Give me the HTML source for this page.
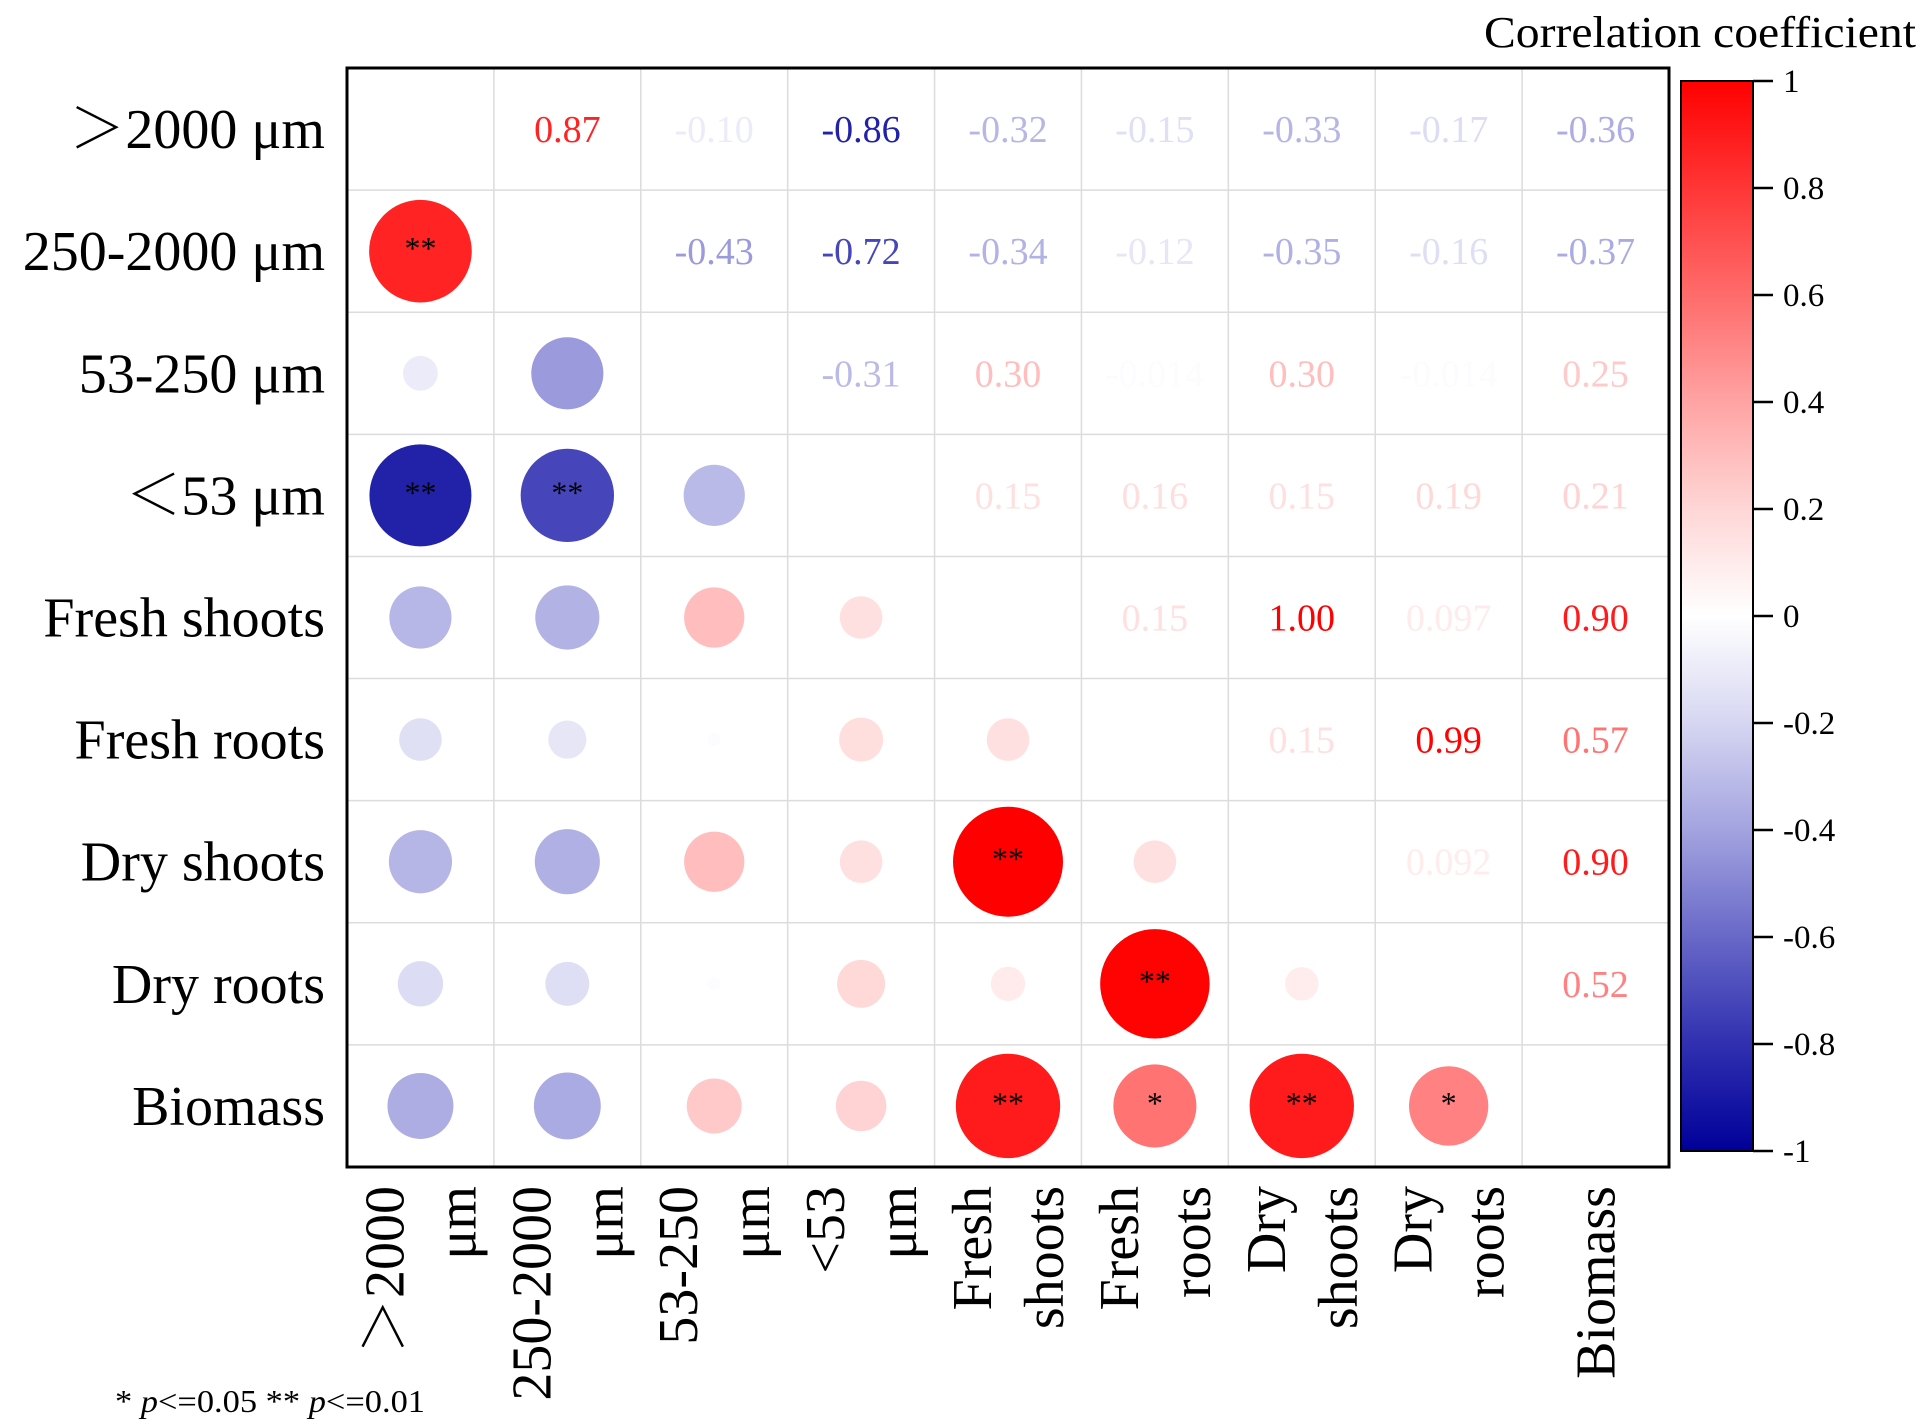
<!DOCTYPE html>
<html><head><meta charset="utf-8"><style>
html,body{margin:0;padding:0;background:#fff;}
svg{display:block;font-family:"Liberation Serif","Noto Serif CJK SC",serif;}
</style></head><body>
<svg id="chart" width="1923" height="1427" viewBox="0 0 1923 1427" xmlns="http://www.w3.org/2000/svg">
<defs>
<linearGradient id="cbgrad" x1="0" y1="1" x2="0" y2="0">
<stop offset="0" stop-color="#000099"/><stop offset="0.1" stop-color="#3030b0"/><stop offset="0.2" stop-color="#6868c8"/><stop offset="0.3" stop-color="#a3a3e0"/><stop offset="0.4" stop-color="#d6d6f2"/><stop offset="0.5" stop-color="#ffffff"/><stop offset="0.6" stop-color="#ffd6d6"/><stop offset="0.7" stop-color="#ffa3a3"/><stop offset="0.8" stop-color="#ff6b6b"/><stop offset="0.9" stop-color="#ff3636"/><stop offset="1" stop-color="#ff0000"/>
</linearGradient>
</defs>
<g id="grid"></g>
<g id="marks"></g>
<rect x="347" y="68" width="1322" height="1099" fill="none" stroke="#000" stroke-width="3"/>
<g id="rowlabels"></g>
<g id="collabels"></g>
<text x="1916" y="47" font-size="44" text-anchor="end" textLength="432" lengthAdjust="spacingAndGlyphs">Correlation coefficient</text>
<rect x="1681" y="81" width="72" height="1070" fill="url(#cbgrad)" stroke="#000" stroke-width="2"/>
<g id="cbticks"></g>
<text x="115" y="1412" font-size="32" textLength="310" lengthAdjust="spacingAndGlyphs">* <tspan font-style="italic">p</tspan>&lt;=0.05  ** <tspan font-style="italic">p</tspan>&lt;=0.01</text>
</svg>
<script>
const rowLabels = ["＞2000 μm","250-2000 μm","53-250 μm","＜53 μm","Fresh shoots","Fresh roots","Dry shoots","Dry roots","Biomass"];
const colLabels = [["＞2000","μm"],["250-2000","μm"],["53-250","μm"],["<53","μm"],["Fresh","shoots"],["Fresh","roots"],["Dry","shoots"],["Dry","roots"],["Biomass"]];
const upperValues = [
 [0.87,-0.10,-0.86,-0.32,-0.15,-0.33,-0.17,-0.36],
 [-0.43,-0.72,-0.34,-0.12,-0.35,-0.16,-0.37],
 [-0.31,0.30,-0.014,0.30,-0.014,0.25],
 [0.15,0.16,0.15,0.19,0.21],
 [0.15,1.00,0.097,0.90],
 [0.15,0.99,0.57],
 [0.092,0.90],
 [0.52]
];
const upperLabels = [
 ["0.87","-0.10","-0.86","-0.32","-0.15","-0.33","-0.17","-0.36"],
 ["-0.43","-0.72","-0.34","-0.12","-0.35","-0.16","-0.37"],
 ["-0.31","0.30","-0.014","0.30","-0.014","0.25"],
 ["0.15","0.16","0.15","0.19","0.21"],
 ["0.15","1.00","0.097","0.90"],
 ["0.15","0.99","0.57"],
 ["0.092","0.90"],
 ["0.52"]
];
const sigPairs = [[0,1,"**"],[0,3,"**"],[1,3,"**"],[4,6,"**"],[5,7,"**"],[4,8,"**"],[6,8,"**"],[5,8,"*"],[7,8,"*"]];
const cbTicks = [1,0.8,0.6,0.4,0.2,0,-0.2,-0.4,-0.6,-0.8,-1];

const NS="http://www.w3.org/2000/svg";
const X0=347,Y0=68,CW=1322/9,CH=1099/9;
const cx=j=>X0+CW*(j+0.5), cy=i=>Y0+CH*(i+0.5);
const cbY=v=>81+(1-v)/2*1070;
const stops=[[-1,[0,0,153]],[-0.8,[48,48,176]],[-0.6,[104,104,200]],[-0.4,[163,163,224]],[-0.2,[214,214,242]],[0,[255,255,255]],[0.2,[255,214,214]],[0.4,[255,163,163]],[0.6,[255,107,107]],[0.8,[255,54,54]],[1,[255,0,0]]];
function color(v){v=Math.max(-1,Math.min(1,v));for(let k=0;k<stops.length-1;k++){const a=stops[k],b=stops[k+1];if(v>=a[0]&&v<=b[0]){const t=(v-a[0])/(b[0]-a[0]);const c=a[1].map((x,q)=>Math.round(x+(b[1][q]-x)*t));return `rgb(${c})`;}}return "#fff";}
function el(tag,attrs,parent,txt){const e=document.createElementNS(NS,tag);for(const k in attrs)e.setAttribute(k,attrs[k]);if(txt!=null)e.textContent=txt;parent.appendChild(e);return e;}
const N=rowLabels.length;
const M=[];for(let i=0;i<N;i++){M.push([]);for(let j=0;j<N;j++)M[i].push(i===j?1:0);}
for(let i=0;i<N-1;i++)for(let k=0;k<upperValues[i].length;k++){const j=i+1+k;M[i][j]=upperValues[i][k];M[j][i]=upperValues[i][k];}
const sig={};sigPairs.forEach(p=>{sig[p[1]+"_"+p[0]]=p[2];});
const grid=document.getElementById('grid');
for(let k=1;k<N;k++){
 const l1=el('line',{x1:X0+CW*k,x2:X0+CW*k,y1:Y0,y2:Y0+CH*N,stroke:'#dcdcdc','stroke-width':1.5},grid);
 
 
 const l2=el('line',{y1:Y0+CH*k,y2:Y0+CH*k,x1:X0,x2:X0+CW*N,stroke:'#dcdcdc','stroke-width':1.5},grid);
 
 
}
const marks=document.getElementById('marks');
for(let i=0;i<N;i++)for(let j=0;j<N;j++){
 const v=M[i][j];
 if(i===j){continue;}
 if(i>j){
  const c=el('circle',{cx:cx(j),cy:cy(i),r:55*Math.sqrt(Math.abs(v)),fill:color(v)},marks);
  
  
  const s=sig[i+"_"+j];
  if(s){const t=el('text',{x:cx(j),y:cy(i)+8,'font-size':32,'text-anchor':'middle',fill:'#000'},marks,s);
   
   }
 } else {
  const t=el('text',{x:cx(j),y:cy(i)+13,'font-size':38,'text-anchor':'middle',fill:color(v)},marks,upperLabels[i][j-i-1]);
  
  
 }
}
const rl=document.getElementById('rowlabels');
rowLabels.forEach((s,i)=>{const t=el('text',{x:325,y:cy(i)+19,'font-size':56,'text-anchor':'end'},rl,s);
 
 });
const cl=document.getElementById('collabels');
colLabels.forEach((ls,j)=>{ls.forEach((s,k)=>{
 const off=ls.length===1?0:(k===0?-36:36);
 const x=cx(j)+off+19,y=1186;
 const t=el('text',{x:x,y:y,'font-size':56,'text-anchor':'end',transform:`rotate(-90 ${x} ${y})`},cl,s);
 
 });});
const cb=document.getElementById('cbticks');
cbTicks.forEach(v=>{const y=cbY(v);
 const l=el('line',{x1:1753,x2:1773,y1:y,y2:y,stroke:'#000','stroke-width':2.5},cb);
 
 
 const t=el('text',{x:1783,y:y+11,'font-size':33},cb,String(v));
 
 });
</script>
</body></html>
